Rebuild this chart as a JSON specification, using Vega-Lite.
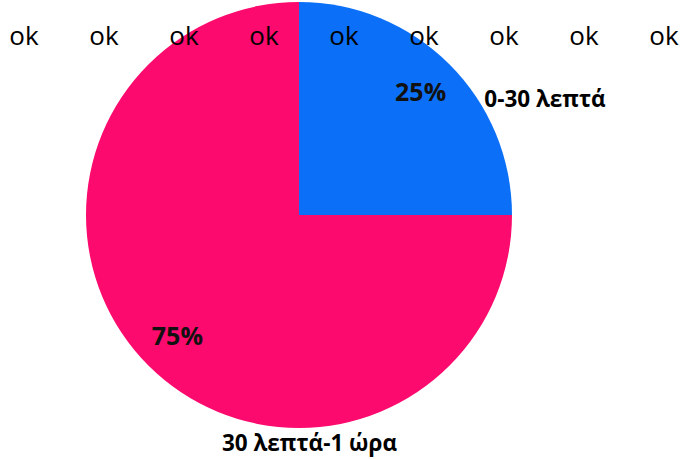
{
  "$schema": "https://vega.github.io/schema/vega-lite/v6.json",
  "width": 598,
  "height": 430,
  "autosize": {"type": "none"},
  "padding": {"left": 0, "top": 0, "right": 86, "bottom": 29},
  "background": "white",
  "config": {"view": {"stroke": null}},
  "datasets": {
    "slices": [
      {"category": "0-30 λεπτά", "percent": 25, "label": "25%"},
      {"category": "30 λεπτά-1 ώρα", "percent": 75, "label": "75%"}
    ],
    "oks": [
      {"i": 1, "t": "ok", "row": "a"},
      {"i": 2, "t": "ok", "row": "a"},
      {"i": 3, "t": "ok", "row": "a"},
      {"i": 4, "t": "ok", "row": "a"},
      {"i": 5, "t": "ok", "row": "a"},
      {"i": 6, "t": "ok", "row": "a"},
      {"i": 7, "t": "ok", "row": "a"},
      {"i": 8, "t": "ok", "row": "a"},
      {"i": 9, "t": "ok", "row": "a"}
    ]
  },
  "layer": [
    {
      "data": {"name": "slices"},
      "mark": {"type": "arc", "outerRadius": 213},
      "encoding": {
        "theta": {"field": "percent", "type": "quantitative", "stack": true},
        "order": {"field": "percent", "type": "quantitative", "sort": "ascending"},
        "color": {
          "field": "category",
          "type": "nominal",
          "scale": {"domain": ["0-30 λεπτά", "30 λεπτά-1 ώρα"], "range": ["#0B70F7", "#FC0A6D"]},
          "legend": null
        }
      }
    },
    {
      "data": {"name": "slices"},
      "mark": {"type": "text", "radius": 172, "font": "Open Sans", "fontWeight": "bold", "fontSize": 25, "color": "#111111", "baseline": "middle", "align": "center"},
      "encoding": {
        "theta": {"field": "percent", "type": "quantitative", "stack": true},
        "order": {"field": "percent", "type": "quantitative", "sort": "ascending"},
        "detail": {"field": "category", "type": "nominal"},
        "text": {"field": "label", "type": "nominal"}
      }
    },
    {
      "data": {"name": "slices"},
      "transform": [{"filter": "datum.category == '0-30 λεπτά'"}],
      "mark": {"type": "text", "theta": 1.133, "radius": 271.6, "font": "Open Sans", "fontWeight": "bold", "fontSize": 22.5, "color": "#000000", "baseline": "middle", "align": "center"},
      "encoding": {"text": {"field": "category", "type": "nominal"}}
    },
    {
      "data": {"name": "slices"},
      "transform": [{"filter": "datum.category == '30 λεπτά-1 ώρα'"}],
      "mark": {"type": "text", "theta": 3.096, "radius": 229.5, "font": "Open Sans", "fontWeight": "bold", "fontSize": 22.5, "color": "#000000", "baseline": "middle", "align": "center"},
      "encoding": {"text": {"field": "category", "type": "nominal"}}
    },
    {
      "data": {"name": "oks"},
      "mark": {"type": "text", "font": "Open Sans", "fontSize": 26, "color": "#000000", "baseline": "middle", "align": "center"},
      "encoding": {
        "x": {"field": "i", "type": "ordinal", "scale": {"type": "point", "padding": 0, "range": [24, 664]}, "axis": null},
        "y": {"field": "row", "type": "nominal", "scale": {"type": "point", "padding": 0, "range": [37, 37]}, "axis": null},
        "text": {"field": "t", "type": "nominal"}
      }
    }
  ]
}
